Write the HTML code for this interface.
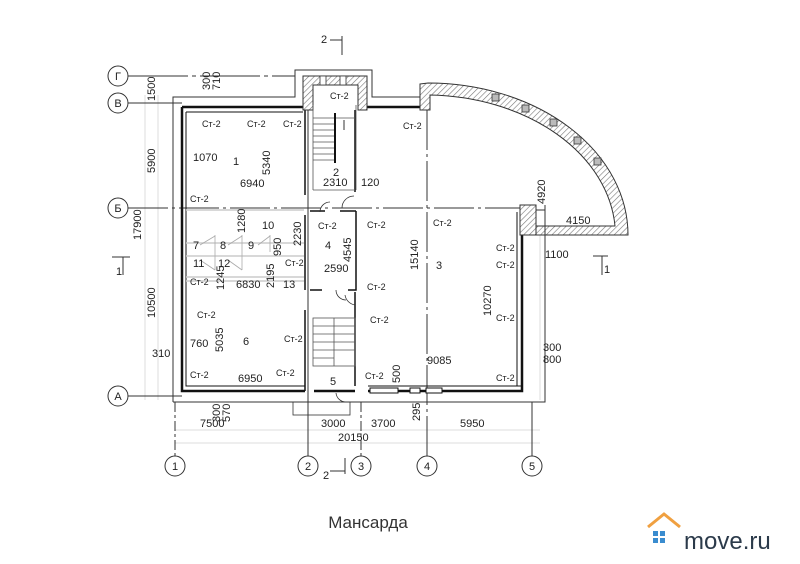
<!DOCTYPE html>
<html><head><meta charset="utf-8"><style>
html,body{margin:0;padding:0;background:#fff;width:800px;height:564px;overflow:hidden}
svg{display:block}
text{font-family:"Liberation Sans",sans-serif;fill:#222}
.s{font-size:9px;fill:#444}
.n{font-size:11px}
</style></head><body>
<svg width="800" height="564" viewBox="0 0 800 564" xmlns="http://www.w3.org/2000/svg">
<defs>
<pattern id="h" width="4" height="4" patternUnits="userSpaceOnUse" patternTransform="rotate(45)">
<rect width="4" height="4" fill="#fff"/><line x1="0" y1="0" x2="0" y2="4" stroke="#777" stroke-width="1.2"/></pattern>
</defs>
<g stroke="#ddd" stroke-width="1" fill="none">
<line x1="145" y1="95" x2="145" y2="400"/><line x1="158" y1="95" x2="158" y2="400"/>
<line x1="175" y1="430" x2="540" y2="430"/><line x1="175" y1="443" x2="540" y2="443"/>
<line x1="540" y1="230" x2="540" y2="400"/>
</g>
<g stroke="#333" stroke-width="1" fill="none">
<line x1="128" y1="76" x2="295" y2="76" stroke-dasharray="60 4 4 4"/>
<line x1="128" y1="103" x2="182" y2="103"/>
<line x1="128" y1="208" x2="520" y2="208" stroke-dasharray="40 4 3 4"/>
<line x1="128" y1="396" x2="182" y2="396"/>
<line x1="175" y1="402" x2="175" y2="456" stroke-dasharray="10 3 3 3"/>
<line x1="308" y1="110" x2="308" y2="456"/>
<line x1="361" y1="402" x2="361" y2="456" stroke-dasharray="10 3 3 3"/>
<line x1="427" y1="110" x2="427" y2="456" stroke-dasharray="40 4 3 4"/>
<line x1="532" y1="402" x2="532" y2="456"/>
</g>
<g fill="#fff" stroke="#333" stroke-width="1">
<circle cx="118" cy="76" r="10"/><circle cx="118" cy="103" r="10"/><circle cx="118" cy="208" r="10"/><circle cx="118" cy="396" r="10"/>
<circle cx="175" cy="466" r="10"/><circle cx="308" cy="466" r="10"/><circle cx="361" cy="466" r="10"/><circle cx="427" cy="466" r="10"/><circle cx="532" cy="466" r="10"/>
</g>
<g class="n" text-anchor="middle">
<text x="118" y="80">Г</text><text x="118" y="107">В</text><text x="118" y="212">Б</text><text x="118" y="400">А</text>
<text x="175" y="470">1</text><text x="308" y="470">2</text><text x="361" y="470">3</text><text x="427" y="470">4</text><text x="532" y="470">5</text>
</g>
<path d="M173,402 L173,97 L295,97 L295,70 L372,70 L372,97 L420,97" fill="none" stroke="#333" stroke-width="1"/>
<path d="M173,402 L545,402 L545,238" fill="none" stroke="#333" stroke-width="1"/>
<g fill="none" stroke="#111">
<path d="M182,107 L303,107 M367,107 L420,107" stroke-width="2.5"/>
<path d="M182,107 L182,391 L305,391 M314,391 L355,391 M368,391 L522,391 L522,210" stroke-width="2.5"/>
<path d="M186,112 L303,112 M186,112 L186,386 L305,386 M522,386 L368,386 M517,386 L517,212" stroke-width="1"/>
<path d="M305,110 L305,195 M305,215 L305,290 M305,310 L305,391" stroke-width="1.5"/>
<path d="M355,110 L355,192 M355,292 L355,386" stroke-width="1.5"/>
<path d="M310,211 L325,211 M340,211 L356,211 M356,211 L356,290 L348,290 M310,290 L322,290" stroke-width="1.5"/>
</g>
<path d="M303,76 L367,76 L367,110 L358,110 L358,85 L313,85 L313,110 L303,110 Z" fill="url(#h)" stroke="#333" stroke-width="1"/>
<rect x="320" y="76" width="6" height="9" fill="#fff" stroke="#333" stroke-width="0.8"/>
<rect x="340" y="76" width="6" height="9" fill="#fff" stroke="#333" stroke-width="0.8"/>
<g stroke="#555" stroke-width="0.8">
<line x1="313" y1="105" x2="313" y2="190"/><line x1="356" y1="105" x2="356" y2="190"/>
<line x1="313" y1="118" x2="355" y2="118"/><line x1="313" y1="124" x2="336" y2="124"/><line x1="313" y1="130" x2="336" y2="130"/>
<line x1="313" y1="136" x2="336" y2="136"/><line x1="313" y1="142" x2="336" y2="142"/><line x1="313" y1="148" x2="336" y2="148"/>
<line x1="313" y1="154" x2="336" y2="154"/><line x1="313" y1="160" x2="336" y2="160"/>
<line x1="313" y1="190" x2="355" y2="190"/>
</g>
<rect x="334" y="113" width="2" height="50" fill="#111"/>
<line x1="344" y1="120" x2="344" y2="130" stroke="#333"/>
<g stroke="#555" stroke-width="0.8">
<rect x="313" y="318" width="42" height="48" fill="none"/>
<line x1="313" y1="326" x2="334" y2="326"/><line x1="313" y1="334" x2="334" y2="334"/><line x1="313" y1="342" x2="334" y2="342"/><line x1="313" y1="350" x2="334" y2="350"/><line x1="313" y1="358" x2="334" y2="358"/>
<line x1="334" y1="318" x2="334" y2="366"/>
<line x1="334" y1="326" x2="355" y2="326"/><line x1="334" y1="334" x2="355" y2="334"/><line x1="334" y1="342" x2="355" y2="342"/><line x1="334" y1="350" x2="355" y2="350"/>
</g>
<g fill="none" stroke="#333" stroke-width="0.8">
<path d="M342,208 A12,12 0 0 1 354,196"/><path d="M320,212 A10,10 0 0 1 330,202"/>
<path d="M336,290 A10,10 0 0 0 346,300"/><path d="M345,295 A12,12 0 0 0 355,305"/>
<path d="M336,393 A10,10 0 0 0 346,402"/>
</g>
<rect x="293" y="402" width="57" height="13" fill="none" stroke="#333" stroke-width="0.8"/>
<g fill="#fff" stroke="#111" stroke-width="1">
<rect x="370" y="388" width="28" height="5"/><rect x="410" y="388" width="10" height="5"/><rect x="426" y="388" width="16" height="5"/>
</g>
<path d="M420,84 L428,83 A200,152 0 0 1 628,235 L528,235 L528,226 L615,226 A190,141 0 0 0 430,95 L430,110 L420,110 Z" fill="url(#h)" stroke="#333" stroke-width="1"/>
<g fill="#bbb" stroke="#333" stroke-width="0.8">
<rect x="492" y="94" width="7" height="7"/>
<rect x="522" y="105" width="7" height="7"/>
<rect x="550" y="119" width="7" height="7"/>
<rect x="574" y="137" width="7" height="7"/>
<rect x="594" y="158" width="7" height="7"/>
</g>
<path d="M520,205 L536,205 L536,235 L520,235 Z" fill="url(#h)" stroke="#333" stroke-width="1"/>
<line x1="536" y1="210" x2="545" y2="210" stroke="#333"/><line x1="545" y1="205" x2="545" y2="238" stroke="#333"/>
<g stroke="#ccc" stroke-width="1.5" fill="none">
<line x1="186" y1="210" x2="304" y2="210"/><line x1="186" y1="243" x2="304" y2="243"/>
<line x1="186" y1="256" x2="304" y2="256"/><line x1="186" y1="277" x2="304" y2="277"/>
<line x1="186" y1="281" x2="304" y2="281"/>
</g>
<g stroke="#aaa" stroke-width="0.8" fill="none">
<line x1="215" y1="235" x2="215" y2="270"/><line x1="242" y1="235" x2="242" y2="270"/><line x1="270" y1="235" x2="270" y2="252"/>
<line x1="200" y1="245" x2="215" y2="236"/><line x1="228" y1="245" x2="242" y2="236"/><line x1="258" y1="245" x2="270" y2="236"/>
<line x1="200" y1="260" x2="215" y2="270"/><line x1="228" y1="260" x2="242" y2="270"/>
</g>
<g class="s">
<text x="202" y="127">Ст-2</text><text x="247" y="127">Ст-2</text><text x="283" y="127">Ст-2</text><text x="330" y="99">Ст-2</text><text x="403" y="129">Ст-2</text>
<text x="190" y="202">Ст-2</text><text x="318" y="229">Ст-2</text><text x="367" y="228">Ст-2</text><text x="433" y="226">Ст-2</text>
<text x="285" y="266">Ст-2</text><text x="190" y="285">Ст-2</text><text x="367" y="290">Ст-2</text>
<text x="496" y="251">Ст-2</text><text x="496" y="268">Ст-2</text>
<text x="197" y="318">Ст-2</text><text x="284" y="342">Ст-2</text><text x="370" y="323">Ст-2</text><text x="496" y="321">Ст-2</text>
<text x="190" y="378">Ст-2</text><text x="276" y="376">Ст-2</text><text x="365" y="379">Ст-2</text><text x="496" y="381">Ст-2</text>
</g>
<g class="n">
<text x="193" y="161">1070</text><text x="233" y="165">1</text><text x="240" y="187">6940</text>
<text x="333" y="176">2</text><text x="323" y="186">2310</text><text x="361" y="186">120</text>
<text x="262" y="229">10</text><text x="193" y="249">7</text><text x="220" y="249">8</text><text x="248" y="249">9</text>
<text x="325" y="249">4</text><text x="324" y="272">2590</text>
<text x="193" y="267">11</text><text x="218" y="267">12</text><text x="236" y="288">6830</text><text x="283" y="288">13</text>
<text x="436" y="269">3</text><text x="545" y="258">1100</text><text x="566" y="224">4150</text>
<text x="190" y="347">760</text><text x="243" y="345">6</text><text x="238" y="382">6950</text>
<text x="330" y="385">5</text><text x="427" y="364">9085</text>
<text x="152" y="357">310</text><text x="543" y="351">300</text><text x="543" y="363">800</text>
<text x="200" y="427">7500</text><text x="321" y="427">3000</text><text x="371" y="427">3700</text><text x="460" y="427">5950</text>
<text x="338" y="441">20150</text>
<text x="321" y="43">2</text><text x="323" y="479">2</text><text x="116" y="275">1</text><text x="604" y="273">1</text>
</g>
<g class="n">
<text transform="translate(155,101) rotate(-90)">1500</text>
<text transform="translate(210,90) rotate(-90)">300</text><text transform="translate(220,90) rotate(-90)">710</text>
<text transform="translate(155,173) rotate(-90)">5900</text>
<text transform="translate(270,175) rotate(-90)">5340</text>
<text transform="translate(141,240) rotate(-90)">17900</text>
<text transform="translate(245,233) rotate(-90)">1280</text>
<text transform="translate(301,246) rotate(-90)">2230</text>
<text transform="translate(281,256) rotate(-90)">950</text>
<text transform="translate(351,262) rotate(-90)">4545</text>
<text transform="translate(418,270) rotate(-90)">15140</text>
<text transform="translate(224,290) rotate(-90)">1245</text>
<text transform="translate(274,288) rotate(-90)">2195</text>
<text transform="translate(155,318) rotate(-90)">10500</text>
<text transform="translate(223,352) rotate(-90)">5035</text>
<text transform="translate(491,316) rotate(-90)">10270</text>
<text transform="translate(400,383) rotate(-90)">500</text>
<text transform="translate(420,421) rotate(-90)">295</text>
<text transform="translate(220,422) rotate(-90)">300</text><text transform="translate(230,422) rotate(-90)">570</text>
<text transform="translate(545,204) rotate(-90)">4920</text>
</g>
<g stroke="#333" fill="none">
<line x1="330" y1="40" x2="342" y2="40"/><line x1="342" y1="36" x2="342" y2="55"/>
<line x1="330" y1="471" x2="345" y2="471"/><line x1="345" y1="458" x2="345" y2="474"/>
<line x1="112" y1="257" x2="130" y2="257"/><line x1="123" y1="257" x2="123" y2="275"/>
<line x1="593" y1="256" x2="608" y2="256"/><line x1="602" y1="256" x2="602" y2="275"/>
</g>
<text x="368" y="528" text-anchor="middle" style="font-size:17px;fill:#333">Мансарда</text>
<path d="M648,527 L664,514 L680,527" fill="none" stroke="#f0a040" stroke-width="3"/>
<g fill="#3a8ccf"><rect x="653" y="531" width="5" height="5"/><rect x="660" y="531" width="5" height="5"/><rect x="653" y="538" width="5" height="5"/><rect x="660" y="538" width="5" height="5"/></g>
<text x="684" y="549" style="font-size:24px;fill:#2b3a4a">move.ru</text>
</svg>
</body></html>
